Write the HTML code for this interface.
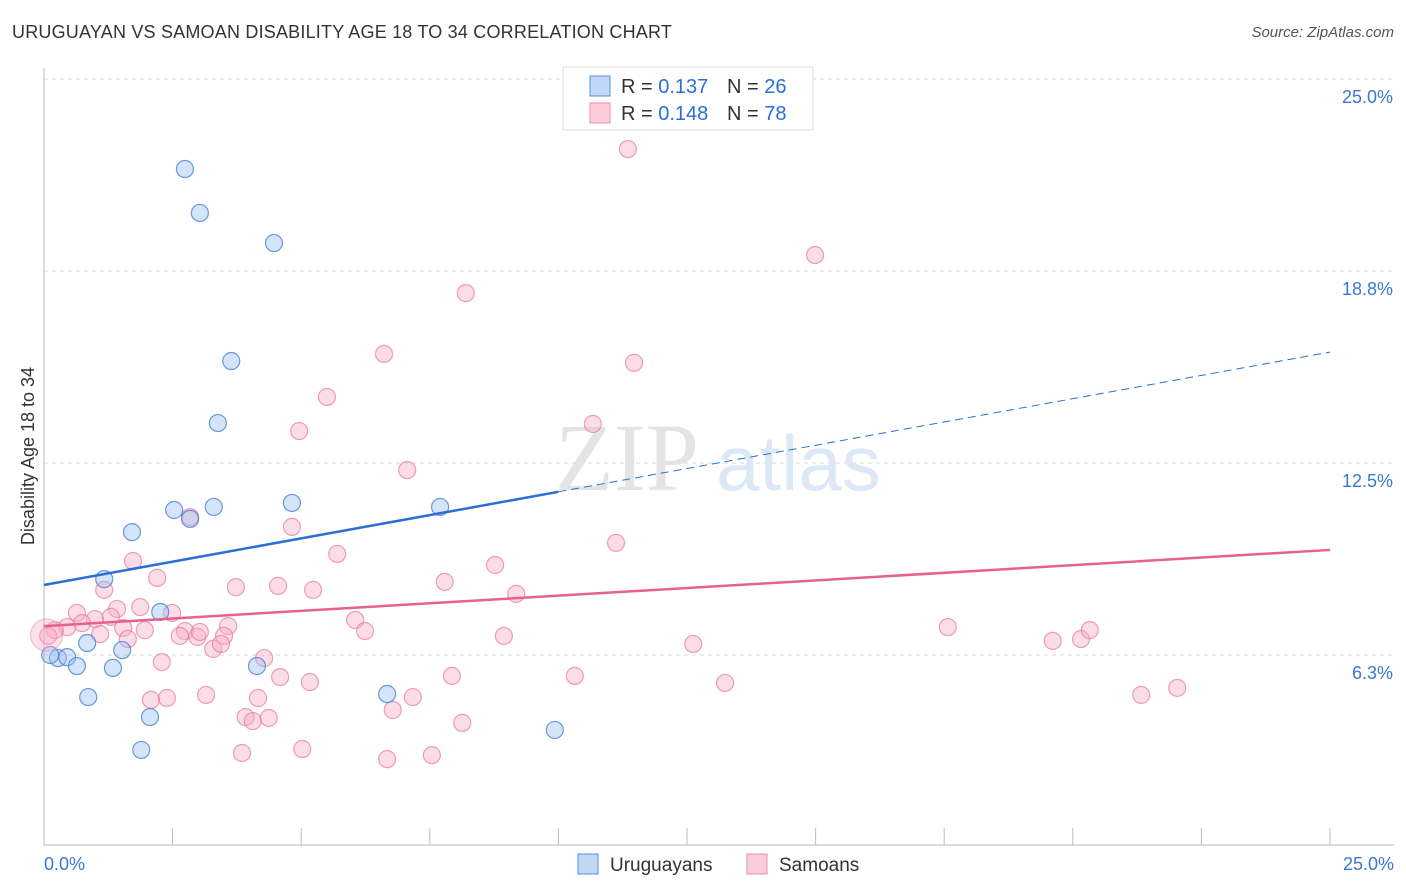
<!DOCTYPE html>
<html><head><meta charset="utf-8">
<style>
body{margin:0;background:#fff;font-family:"Liberation Sans",sans-serif;}
#wrap{position:relative;width:1406px;height:892px;overflow:hidden;}
.t{position:absolute;white-space:nowrap;}
</style></head>
<body>
<div id="wrap">
<div class="t" style="left:12px;top:22px;font-size:18px;color:#333;letter-spacing:0.2px">URUGUAYAN VS SAMOAN DISABILITY AGE 18 TO 34 CORRELATION CHART</div>
<div class="t" style="right:12px;top:24px;font-size:15px;color:#555;font-style:italic">Source: ZipAtlas.com</div>
<svg id="svg" width="1406" height="892" style="position:absolute;left:0;top:0"></svg>
</div>
<script>
const xTicks=[0,2.5,5,7.5,10,12.5,15,17.5,20,22.5,25];
const yTicks=[6.25,12.5,18.75,25];
const yTickLabels=["6.3%","12.5%","18.8%","25.0%"];
const blueX=[2.74,3.03,4.47,3.64,3.38,4.82,7.70,2.53,3.30,2.84,1.71,1.17,2.26,0.84,1.52,0.27,0.45,0.64,1.34,4.14,0.86,6.67,2.06,1.89,9.93,0.12];
const blueY=[22.07,20.64,19.66,15.82,13.80,11.20,11.07,10.97,11.07,10.68,10.25,8.72,7.65,6.64,6.41,6.15,6.18,5.89,5.83,5.89,4.88,4.98,4.23,3.16,3.81,6.25];
const pinkX=[11.35,14.99,8.20,6.61,11.47,5.50,4.96,10.67,7.06,4.82,2.84,11.12,5.70,1.73,8.77,2.20,7.79,3.73,4.55,5.23,1.17,9.18,0.64,1.42,1.87,2.49,0.99,1.30,0.45,0.74,0.21,0.08,1.09,1.54,1.96,1.63,2.74,2.64,2.98,3.03,3.58,3.50,3.29,3.44,6.05,6.24,8.94,12.62,17.57,19.61,20.16,20.33,2.29,4.28,4.59,5.17,7.93,10.32,13.24,22.03,21.33,3.15,2.39,2.08,4.16,7.17,6.78,3.92,4.06,4.37,8.13,3.85,5.02,6.67,7.54];
const pinkY=[22.72,19.27,18.03,16.05,15.76,14.65,13.54,13.77,12.27,10.42,10.74,9.90,9.54,9.31,9.18,8.76,8.63,8.46,8.50,8.37,8.37,8.24,7.62,7.75,7.81,7.62,7.42,7.49,7.16,7.29,7.06,6.87,6.93,7.13,7.06,6.77,7.03,6.87,6.84,7.00,7.19,6.87,6.45,6.61,7.39,7.03,6.87,6.61,7.16,6.71,6.77,7.06,6.02,6.15,5.53,5.37,5.57,5.57,5.34,5.18,4.95,4.95,4.85,4.79,4.85,4.88,4.46,4.23,4.10,4.20,4.04,3.06,3.19,2.86,2.99];
const blueTrend=[8.53,16.11]; // values at x=0 and x=25
const pinkTrend=[7.19,9.67];
const blueSolidEnd=10.0;

const X=v=>44+v*1286/25;
const Y=v=>847-v*192/6.25;
const svg=document.getElementById('svg');
const NS='http://www.w3.org/2000/svg';
function mk(tag,attrs,parent){const e=document.createElementNS(NS,tag);for(const k in attrs)e.setAttribute(k,attrs[k]);(parent||svg).appendChild(e);return e;}

// gridlines
yTicks.forEach((v,i)=>{
  const g=mk('line',{x1:44,x2:1394,y1:Y(v),y2:Y(v),stroke:'#d8d8d8','stroke-dasharray':'4,4','stroke-width':1});
  
  
  const t=mk('text',{x:1393,y:Y(v)+24,'text-anchor':'end','font-size':18,fill:'#3b78d0','font-family':'Liberation Sans, sans-serif'});
  t.textContent=yTickLabels[i];
  
  
});
// axes
const ax=mk('line',{x1:44,x2:1394,y1:845,y2:845,stroke:'#bbb','stroke-width':1});


const ay=mk('line',{x1:44,x2:44,y1:68,y2:845,stroke:'#bbb','stroke-width':1});


xTicks.forEach(v=>{
  const l=mk('line',{x1:X(v),x2:X(v),y1:828,y2:845,stroke:'#bbb','stroke-width':1});
  
  
});
[[0,'0.0%','start',44],[25,'25.0%','end',1394]].forEach(a=>{
  const t=mk('text',{x:a[3],y:870,'text-anchor':a[2],'font-size':18,fill:'#3b78d0','font-family':'Liberation Sans, sans-serif'});
  t.textContent=a[1];
  
  
});
const yt=mk('text',{x:0,y:0,transform:'translate(34,456) rotate(-90)','text-anchor':'middle','font-size':18,fill:'#333','font-family':'Liberation Sans, sans-serif'});
yt.textContent='Disability Age 18 to 34';



// watermark
const wm=mk('text',{x:555,y:490,'font-size':96,fill:'#e4e4e4','font-family':'Liberation Serif, serif'});
wm.textContent='ZIP';


const wm2=mk('text',{x:716,y:490,'font-size':78,fill:'#dde8f6','font-family':'Liberation Sans, sans-serif'});
wm2.textContent='atlas';



// points
function pts(xs,ys,fill,stroke,name){
  xs.forEach((x,i)=>{
    const c=mk('circle',{cx:X(x),cy:Y(ys[i]),r:8.5,fill:fill,stroke:stroke,'stroke-width':1.2});
    
    
  });
}
pts(pinkX,pinkY,'rgba(248,170,195,0.4)','rgba(230,120,155,0.7)','samoan-point');
pts(blueX,blueY,'rgba(150,190,240,0.4)','rgba(60,120,210,0.75)','uruguayan-point');
const big1=mk('circle',{cx:X(0.05),cy:Y(6.9),r:16,fill:'rgba(248,170,195,0.35)',stroke:'rgba(230,120,155,0.5)'});



// trend lines
const lt=v=>blueTrend[0]+(blueTrend[1]-blueTrend[0])*v/25;
const b1=mk('line',{x1:X(0),y1:Y(blueTrend[0]),x2:X(blueSolidEnd),y2:Y(lt(blueSolidEnd)),stroke:'#2a6fd6','stroke-width':2.5});


const b2=mk('line',{x1:X(blueSolidEnd),y1:Y(lt(blueSolidEnd)),x2:X(25),y2:Y(blueTrend[1]),stroke:'#2a6fd6','stroke-width':1,'stroke-dasharray':'8,5'});


const p1=mk('line',{x1:X(0),y1:Y(pinkTrend[0]),x2:X(25),y2:Y(pinkTrend[1]),stroke:'#e8608e','stroke-width':2.5});



// top legend
const lg=mk('rect',{x:563,y:67,width:250,height:63,fill:'#fff',stroke:'#ddd'});


[[86,'rgba(150,190,240,0.6)','#5a8fd8','0.137','26'],[113,'rgba(248,170,195,0.6)','#e890ac','0.148','78']].forEach(r=>{
  const s=mk('rect',{x:590,y:r[0]-10,width:20,height:20,fill:r[1],stroke:r[2]});
  
  
  const t=mk('text',{x:621,y:r[0]+7,'font-size':20,fill:'#333','font-family':'Liberation Sans, sans-serif'});
  t.innerHTML='R = <tspan fill="#2a6fd6">'+r[3]+'</tspan><tspan x="727">N = </tspan><tspan fill="#2a6fd6">'+r[4]+'</tspan>';
  
  
});
// bottom legend
[[578,'rgba(150,190,240,0.6)','#5a8fd8','Uruguayans'],[747,'rgba(248,170,195,0.6)','#e890ac','Samoans']].forEach(r=>{
  const s=mk('rect',{x:r[0],y:854,width:20,height:20,fill:r[1],stroke:r[2]});
  
  
  const t=mk('text',{x:r[0]+32,y:871,'font-size':19,fill:'#333','font-family':'Liberation Sans, sans-serif'});
  t.textContent=r[3];
  
  
});
</script>
</body></html>
